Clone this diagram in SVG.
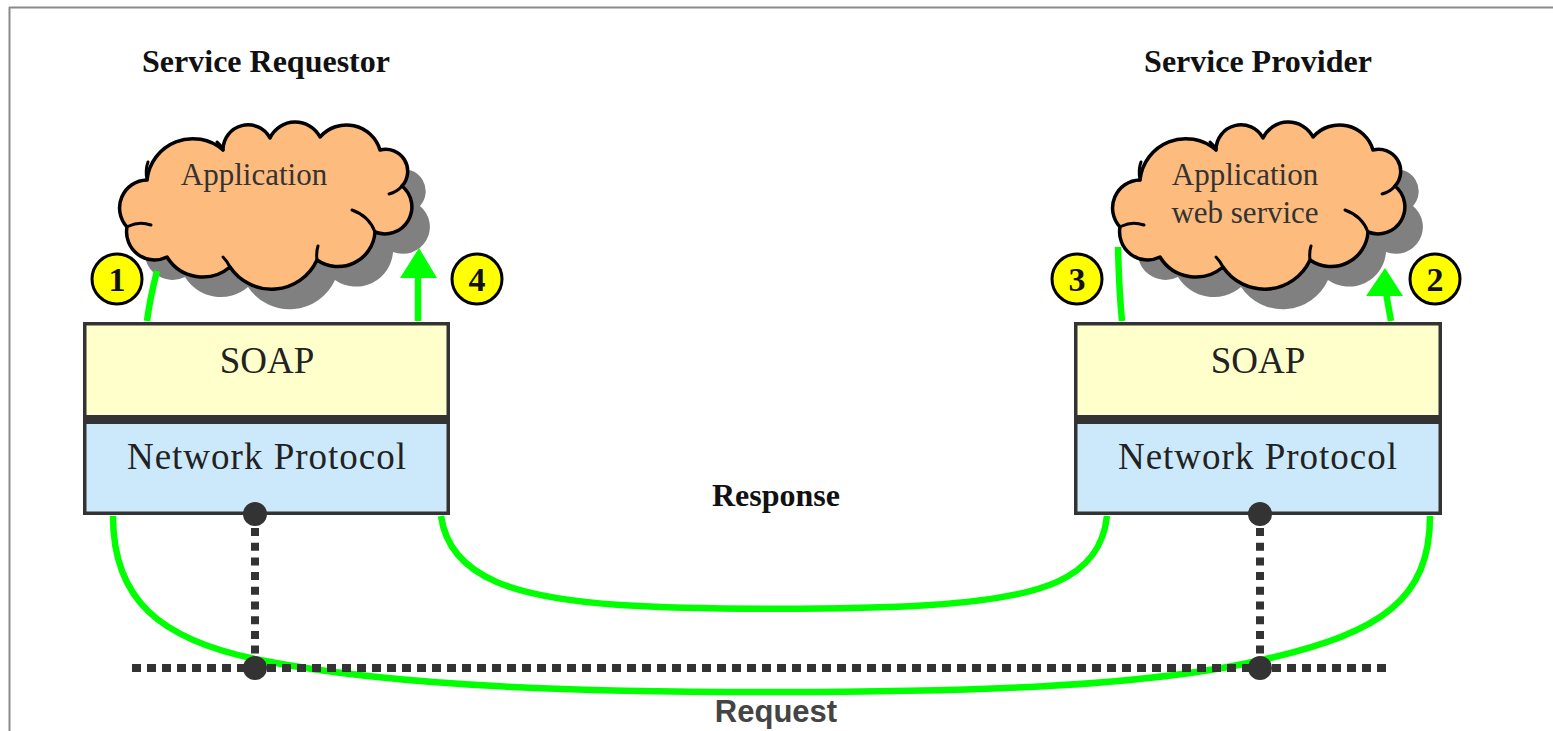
<svg xmlns="http://www.w3.org/2000/svg" width="1553" height="731" viewBox="0 0 1553 731">
<style>
  .title { font-family: "Liberation Serif", "Times New Roman", serif; font-weight: bold; font-size: 32px; fill: #111; text-anchor: middle; }
  .cloudtxt { font-family: "Liberation Serif", "Times New Roman", serif; font-size: 31px; fill: #333; text-anchor: middle; }
  .layer { font-family: "Liberation Serif", "Times New Roman", serif; font-size: 37px; fill: #222; text-anchor: middle; }
  .badge circle { fill: #ffff00; stroke: #000; stroke-width: 3; }
  .badge text { font-family: "Liberation Serif", "Times New Roman", serif; font-weight: bold; font-size: 34px; fill: #111; text-anchor: middle; }
  .green { fill: none; stroke: #00ff00; stroke-width: 6.5; }
  .greenhead { fill: #00ff00; }
  .dotted { fill: none; stroke: #333; stroke-width: 8; }
  .dot { fill: #333; }
  .cloud { fill: #fdbb7d; stroke: #000; stroke-width: 3.5; stroke-linejoin: round; }
  .shadow { fill: #808080; }
  .curl { fill: none; stroke: #000; stroke-width: 3; stroke-linecap: round; }
</style>
<defs>
  <path id="cloudShape" d="M10,105 A28,28 0 0 1 30,58 A46,46 0 0 1 106,28 A25,25 0 0 1 153,16 A28,28 0 0 1 203,15 A35,35 0 0 1 263,28 A22,22 0 0 1 285,64 A27,27 0 0 1 258,110 A37,37 0 0 1 200,138 A50,50 0 0 1 113,145 A42,42 0 0 1 50,135 A28,28 0 0 1 10,105 Z"/>
  <g id="cloudCurls">
    <path class="curl" d="M12,104 Q22,99 34,103"/>
    <path class="curl" d="M30,58 Q28,48 31,40"/>
    <path class="curl" d="M106,28 Q104,23 100,20"/>
    <path class="curl" d="M285,64 Q280,70 272,72"/>
    <path class="curl" d="M258,110 Q252,94 235,88"/>
    <path class="curl" d="M200,138 Q199,130 201,124"/>
    <path class="curl" d="M113,145 Q110,139 106,135"/>
  </g>
</defs>

<rect x="0" y="0" width="1553" height="731" fill="#ffffff"/>

<g id="frame">
  <line x1="9" y1="7.5" x2="1553" y2="7.5" stroke="#8a8a8a" stroke-width="2"/>
  <line x1="9.5" y1="7" x2="9.5" y2="731" stroke="#8a8a8a" stroke-width="2"/>
</g>

<g id="title-requestor"><text class="title" x="266" y="72">Service Requestor</text></g>
<g id="title-provider"><text class="title" x="1258" y="72">Service Provider</text></g>

<g id="cloud-requestor" transform="translate(117,122)">
  <use href="#cloudShape" class="shadow" transform="translate(18,20)"/>
  <use href="#cloudShape" class="cloud"/>
  <use href="#cloudCurls"/>
  <text class="cloudtxt" x="137" y="63">Application</text>
</g>

<g id="cloud-provider" transform="translate(1110,122)">
  <use href="#cloudShape" class="shadow" transform="translate(18,20)"/>
  <use href="#cloudShape" class="cloud"/>
  <use href="#cloudCurls"/>
  <text class="cloudtxt" x="135" y="63">Application</text>
  <text class="cloudtxt" x="135" y="101">web service</text>
</g>

<g id="stack-requestor">
  <rect x="83" y="322" width="367" height="193" fill="#333"/>
  <rect x="86.5" y="325.5" width="360" height="89.5" fill="#ffffcc"/>
  <rect x="86.5" y="424" width="360" height="87.5" fill="#cce9fb"/>
  <text class="layer" x="267" y="373">SOAP</text>
  <text class="layer" x="267" y="469" font-size="36" letter-spacing="1">Network Protocol</text>
</g>

<g id="stack-provider">
  <rect x="1074" y="322" width="368" height="193" fill="#333"/>
  <rect x="1077.5" y="325.5" width="361" height="89.5" fill="#ffffcc"/>
  <rect x="1077.5" y="424" width="361" height="87.5" fill="#cce9fb"/>
  <text class="layer" x="1258" y="373">SOAP</text>
  <text class="layer" x="1258" y="469" font-size="36" letter-spacing="1">Network Protocol</text>
</g>

<g id="connectors">
  <path class="green" d="M147,321 Q150,298 157,271"/>
  <line class="green" x1="418" y1="321" x2="418" y2="276"/>
  <polygon class="greenhead" points="400,278 437,278 419,248"/>
  <path class="green" d="M1122,321 Q1119,290 1118,247"/>
  <line class="green" x1="1391" y1="321" x2="1386" y2="293"/>
  <polygon class="greenhead" points="1366,296 1403,296 1385,268"/>
  <path class="green" d="M441,516 C450,580 520,598 620,605 C700,610 850,610 930,605 C1040,598 1100,580 1107,516"/>
  <path class="green" d="M113,516 C113,600 160,640 260,660 C400,688 600,692 776,692 C950,692 1150,688 1270,658 C1380,632 1430,600 1430,516"/>
  <line class="dotted" x1="132" y1="668" x2="1391" y2="668" stroke-dasharray="9 6"/>
  <line class="dotted" x1="255" y1="528" x2="255" y2="660" stroke-dasharray="8 6.7"/>
  <line class="dotted" x1="1260" y1="528" x2="1260" y2="660" stroke-dasharray="8 6.7"/>
  <circle class="dot" cx="255" cy="514" r="12"/>
  <circle class="dot" cx="255" cy="668" r="12"/>
  <circle class="dot" cx="1260" cy="514" r="12"/>
  <circle class="dot" cx="1260" cy="668" r="12"/>
</g>

<g id="badge-1" class="badge"><circle cx="117" cy="279" r="25"/><text x="117" y="291">1</text></g>
<g id="badge-4" class="badge"><circle cx="477" cy="279" r="25"/><text x="477" y="291">4</text></g>
<g id="badge-3" class="badge"><circle cx="1077" cy="279" r="25"/><text x="1077" y="291">3</text></g>
<g id="badge-2" class="badge"><circle cx="1435" cy="279" r="25"/><text x="1435" y="291">2</text></g>

<g id="label-response"><text class="title" x="776" y="506" font-size="33">Response</text></g>
<g id="label-request"><text x="776" y="722" font-family="Liberation Sans, Arial, sans-serif" font-weight="bold" font-size="31" fill="#444" text-anchor="middle">Request</text></g>
</svg>
